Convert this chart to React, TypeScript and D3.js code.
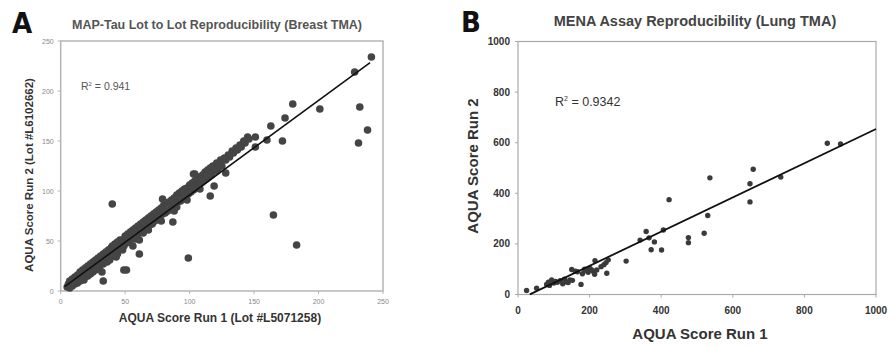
import React from 'react';
import * as d3 from 'd3';

// Panel A: MAP-Tau lot to lot (Breast TMA)
const tauTicks = [0, 50, 100, 150, 200, 250];
const tauBand: [number, number][] = [
  [5, 4], [6, 7], [7, 3], [7, 10], [8, 6], [9, 12], [9, 5], [10, 9], [11, 14], [11, 7],
  [12, 12], [13, 8], [13, 16], [14, 12], [15, 19], [15, 10], [16, 15], [17, 21], [17, 12], [18, 17],
  [19, 23], [19, 14], [20, 19], [21, 25], [21, 15], [22, 21], [23, 27], [23, 17], [24, 23], [25, 29],
  [25, 19], [26, 25], [27, 31], [27, 21], [28, 27], [29, 33], [30, 28], [30, 23], [31, 35], [32, 30],
  [33, 37], [33, 27], [34, 33], [35, 39], [36, 34], [36, 29], [37, 41], [38, 36], [39, 43], [40, 35],
  [40, 45], [41, 40], [42, 47], [43, 39], [44, 49], [44, 37], [45, 45], [46, 51], [47, 44], [48, 51],
  [49, 45], [50, 55], [51, 48], [52, 57], [53, 49], [54, 59], [55, 52], [56, 61], [57, 54], [58, 63],
  [59, 55], [60, 65], [61, 58], [62, 67], [63, 59], [64, 69], [65, 62], [66, 71], [67, 63], [68, 73],
  [69, 66], [70, 75], [71, 67], [72, 77], [73, 70], [74, 79], [75, 72], [76, 81], [77, 73], [78, 83],
  [79, 77], [80, 86], [81, 78], [82, 88], [83, 80], [84, 89], [85, 82], [86, 91], [87, 84], [88, 93],
  [89, 86], [90, 96], [91, 89], [92, 98], [93, 90], [94, 100], [95, 93], [96, 102], [97, 95], [98, 103],
  [99, 97], [100, 106], [101, 99], [102, 108], [103, 101], [104, 110], [105, 103], [106, 112], [107, 106], [108, 114],
  [109, 108], [110, 116], [111, 110], [112, 119], [113, 112], [114, 121], [115, 114], [116, 123], [117, 116], [118, 125],
  [120, 120], [121, 128], [122, 122], [124, 131], [125, 125], [127, 133], [128, 131], [130, 136], [131, 134], [133, 140],
  [134, 138], [136, 143], [137, 141], [139, 146], [140, 144], [142, 150], [143, 148], [145, 154], [146, 152],
  [18, 11], [28, 22], [38, 31], [48, 41], [58, 52], [68, 61], [78, 70], [88, 80], [98, 91], [108, 102],
];
const tauOutliers: [number, number][] = [
  [241, 234], [228, 219], [232, 184], [238, 161], [231, 148], [201, 182], [180, 187], [174, 173],
  [172, 150], [163, 165], [160, 151], [151, 154], [151, 144], [165, 76], [183, 46], [99, 33],
  [40, 87], [87, 69], [56, 45], [61, 37], [49, 21], [51, 21], [33, 10], [32, 19], [116, 95],
  [119, 105], [64, 58], [61, 51], [43, 34], [90, 84], [79, 92], [104, 117], [128, 118], [103, 117],
];
const tauFit = { slope: 0.945, intercept: 1.5, from: 3, to: 240 };

// Panel B: MENA assay (Lung TMA)
const menaTicks = [0, 200, 400, 600, 800, 1000];
const menaPoints: [number, number][] = [
  [24, 16], [52, 25], [80, 40], [85, 49], [88, 36], [94, 58], [100, 45], [105, 52], [110, 48], [118, 55],
  [125, 42], [130, 60], [135, 50], [140, 47], [145, 58], [150, 99], [152, 56], [160, 92], [166, 90], [176, 40],
  [180, 82], [186, 100], [190, 95], [196, 88], [200, 104], [205, 98], [210, 92], [214, 80], [215, 134], [220, 97],
  [232, 110], [240, 118], [246, 126], [248, 84], [252, 137], [302, 132], [341, 215], [358, 249], [366, 224],
  [372, 177], [381, 208], [401, 176], [406, 255], [422, 375], [476, 225], [476, 205], [520, 242], [530, 312],
  [536, 461], [648, 438], [648, 366], [657, 495], [734, 464], [864, 598], [901, 595],
];
const menaFit = { slope: 0.676, intercept: -22, from: 33, to: 1000 };

const sans = 'Liberation Sans, Arial, sans-serif';
const narrow = 'Liberation Sans Narrow, DejaVu Sans Condensed, sans-serif';

const App = () => {
  // panel A scales
  const ax = d3.scaleLinear().domain([0, 250]).range([60.7, 383]);
  const ay = d3.scaleLinear().domain([0, 250]).range([291, 41]);
  // panel B scales
  const bx = d3.scaleLinear().domain([0, 1000]).range([518, 876]);
  const by = d3.scaleLinear().domain([0, 1000]).range([294.5, 41.5]);

  const aLine = d3.line<number>().x(d => ax(d)).y(d => ay(tauFit.slope * d + tauFit.intercept));
  const bLine = d3.line<number>().x(d => bx(d)).y(d => by(menaFit.slope * d + menaFit.intercept));

  return (
    <svg width={889} height={348} style={{ position: 'absolute', left: 0, top: 0, background: '#fff' }}>
      {/* ---------- Panel A ---------- */}
      <text x={12} y={33} fontFamily={narrow} fontWeight="bold" fontSize={29} fill="#111">A</text>
      <text x={217} y={29} textAnchor="middle" fontFamily={sans} fontWeight="bold" fontSize={12.5} fill="#555">
        MAP-Tau Lot to Lot Reproducibility (Breast TMA)
      </text>
      <rect x={ax(0)} y={ay(250)} width={ax(250) - ax(0)} height={ay(0) - ay(250)} fill="none" stroke="#b5b5b5" strokeWidth={1.5} />
      {tauTicks.map(t => (
        <g key={'ay' + t}>
          <line x1={ax(0) - 3} x2={ax(0)} y1={ay(t)} y2={ay(t)} stroke="#b5b5b5" />
          <text x={ax(0) - 7} y={ay(t) + 2.5} textAnchor="end" fontFamily={sans} fontSize={7} fill="#888">{t}</text>
          <line x1={ax(t)} x2={ax(t)} y1={ay(0)} y2={ay(0) + 3} stroke="#b5b5b5" />
          <text x={ax(t)} y={ay(0) + 13} textAnchor="middle" fontFamily={sans} fontSize={7} fill="#888">{t}</text>
        </g>
      ))}
      {tauBand.concat(tauOutliers).map((d, i) => (
        <circle key={'ap' + i} cx={ax(d[0])} cy={ay(d[1])} r={3.8} fill="#454545" />
      ))}
      <path d={aLine([tauFit.from, tauFit.to]) || ''} fill="none" stroke="#111" strokeWidth={1.6} />
      <text x={81} y={90} fontFamily={sans} fontSize={10.5} fill="#555">
        R<tspan dy={-4} fontSize={6}>2</tspan><tspan dy={4}> = 0.941</tspan>
      </text>
      <text transform="translate(33,175) rotate(-90)" textAnchor="middle" fontFamily={sans} fontWeight="bold" fontSize={11.5} fill="#333">
        AQUA Score Run 2 (Lot #L6102662)
      </text>
      <text x={220} y={322} textAnchor="middle" fontFamily={sans} fontWeight="bold" fontSize={12} fill="#333">
        AQUA Score Run 1 (Lot #L5071258)
      </text>

      {/* ---------- Panel B ---------- */}
      <text x={461} y={32} fontFamily={narrow} fontWeight="bold" fontSize={29} fill="#111">B</text>
      <text x={695} y={26} textAnchor="middle" fontFamily={sans} fontWeight="bold" fontSize={14.5} fill="#444">
        MENA Assay Reproducibility (Lung TMA)
      </text>
      <rect x={bx(0)} y={by(1000)} width={bx(1000) - bx(0)} height={by(0) - by(1000)} fill="none" stroke="#aaa" strokeWidth={1.2} />
      {menaTicks.map(t => (
        <g key={'by' + t}>
          <line x1={bx(0) - 3} x2={bx(0)} y1={by(t)} y2={by(t)} stroke="#aaa" />
          <text x={bx(0) - 8} y={by(t) + 3.5} textAnchor="end" fontFamily={sans} fontWeight="bold" fontSize={10} fill="#333">{t}</text>
          <line x1={bx(t)} x2={bx(t)} y1={by(0)} y2={by(0) + 3} stroke="#aaa" />
          <text x={bx(t)} y={by(0) + 19} textAnchor="middle" fontFamily={sans} fontWeight="bold" fontSize={10} fill="#333">{t}</text>
        </g>
      ))}
      {menaPoints.map((d, i) => (
        <circle key={'bp' + i} cx={bx(d[0])} cy={by(d[1])} r={2.7} fill="#3a3a3a" />
      ))}
      <path d={bLine([menaFit.from, menaFit.to]) || ''} fill="none" stroke="#111" strokeWidth={1.8} />
      <text x={555} y={106} fontFamily={sans} fontSize={12.5} fill="#333">
        R<tspan dy={-5} fontSize={7}>2</tspan><tspan dy={5}> = 0.9342</tspan>
      </text>
      <text transform="translate(478,166) rotate(-90)" textAnchor="middle" fontFamily={sans} fontWeight="bold" fontSize={15} fill="#333">
        AQUA Score Run 2
      </text>
      <text x={700} y={339} textAnchor="middle" fontFamily={sans} fontWeight="bold" fontSize={15} fill="#333">
        AQUA Score Run 1
      </text>
    </svg>
  );
};

export default App;
